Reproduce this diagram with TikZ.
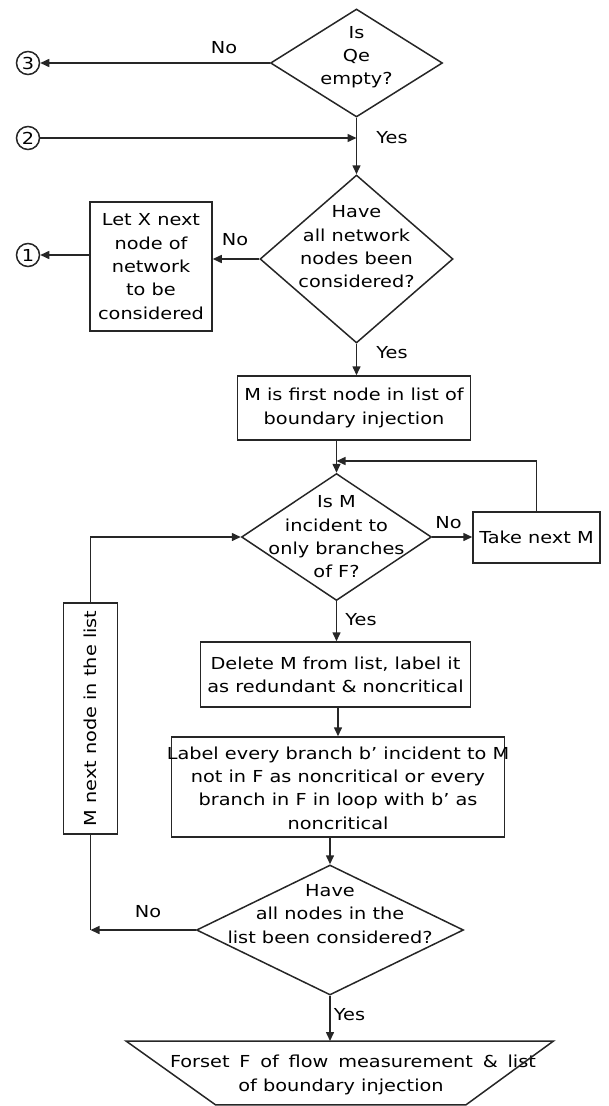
\documentclass[tikz,border=0pt]{standalone}
\usepackage{fontspec}
\setmainfont[FakeStretch=1.17]{DejaVu Sans}
\usetikzlibrary{shapes.geometric,arrows.meta}
\begin{document}
\begin{tikzpicture}[x=1pt,y=-1pt,
  every node/.style={font=\fontsize{16.5}{23.3}\selectfont, text=black},
  ln/.style={line width=1.5pt, draw=black!85},
  arr/.style={ln, -{Triangle[length=9pt,width=8pt]}},
  dia/.style={diamond, ln, inner sep=0pt},
  box/.style={rectangle, ln, inner sep=0pt, align=center},
  txt/.style={align=center, inner sep=0pt},
  conn/.style={circle, ln, inner sep=0pt, minimum size=23pt},
  lbl/.style={inner sep=0pt}]
\useasboundingbox (0,0) rectangle (609,1106);
% nodes
\node[dia, minimum width=172pt, minimum height=108pt] (q1) at (356.5,63) {};
\node[txt] (q1t) at (356.5,57) {Is\\Qe\\empty?};
\node[conn] (c3) at (28,63) {3};
\node[conn] (c2) at (28,138) {2};
\coordinate (j2) at (356.5,138);
\node[dia, minimum width=193pt, minimum height=168pt] (q2) at (356.5,259) {};
\node[txt] (q2t) at (356.5,247) {Have\\all network\\nodes been\\considered?};
\node[box, minimum width=122pt, minimum height=129pt] (bx) at (151,266.5) {Let X next\\node of\\network\\to be\\considered};
\node[conn] (c1) at (28,255) {1};
\node[box, minimum width=233pt, minimum height=64pt] (b1) at (354,408) {M is first node in list of\\boundary injection};
\node[dia, minimum width=190pt, minimum height=127pt] (q3) at (336.5,537) {};
\node[txt] (q3t) at (336.5,537) {Is M\\incident to\\only branches\\of F?};
\node[box, minimum width=127pt, minimum height=51pt] (tk) at (536.5,537.5) {Take next M};
\coordinate (fb) at (336.5,461);
\node[box, minimum width=54pt, minimum height=231pt] (mn) at (90.5,718.5) {\rotatebox{90}{M next node in the list}};
\node[box, minimum width=270pt, minimum height=65pt] (del) at (335.5,674.5) {Delete M from list, label it\\as redundant \& noncritical};
\node[box, minimum width=333pt, minimum height=100pt] (lab) at (338,787) {};
\node[txt] (labt) at (338,788) {Label every branch b’ incident to M\\not in F as noncritical or every\\branch in F in loop with b’ as\\noncritical};
\node[dia, minimum width=267pt, minimum height=130pt] (q4) at (330,930) {};
\node[txt] (q4t) at (330,914) {Have\\all nodes in the\\list been considered?};
\coordinate (j4) at (90.5,930);
% output trapezoid
\node[txt] (out) at (341,1075) {\hspace*{24pt}\makebox[366pt][s]{Forset F of flow measurement \& list}\\of boundary injection};
\coordinate (outtop) at (330,1041);
\draw[ln, line join=miter] (126,1041) -- (553.5,1041) -- (466,1104.8) -- (215.5,1104.8) -- cycle;
% labels
\node[lbl] (n1) at (224,48) {No};
\node[lbl] (y1) at (392,138) {Yes};
\node[lbl] (n2) at (235,240) {No};
\node[lbl] (y2) at (392,353) {Yes};
\node[lbl] (n3) at (448.5,523) {No};
\node[lbl] (y3) at (361,620) {Yes};
\node[lbl] (n4) at (148,912) {No};
\node[lbl] (y4) at (349.5,1015) {Yes};
% connectors
\draw[arr] (q1.west) -- (c3.east);
\draw[arr] (c2.east) -- (j2);
\draw[arr] (q1.south) -- (q2.north);
\draw[arr] (q2.west) -- (q2.west -| bx.east);
\draw[arr] (bx.west |- c1.east) -- (c1.east);
\draw[arr] (q2.south) -- (q2.south |- b1.north);
\draw[arr] (q3.north |- b1.south) -- (q3.north);
\draw[arr] (q3.east) -- (q3.east -| tk.west);
\draw[arr] (tk.north) |- (fb);
\draw[arr] (mn.north) |- (q3.west);
\draw[arr] (q3.south) -- (q3.south |- del.north);
\draw[arr] (del.south -| lab.north) -- (lab.north);
\draw[arr] (lab.south -| q4.north) -- (q4.north);
\draw[arr] (q4.west) -- (j4);
\draw[ln] (mn.south) -- (j4);
\draw[arr] (q4.south) -- (outtop);
\end{tikzpicture}
\end{document}
